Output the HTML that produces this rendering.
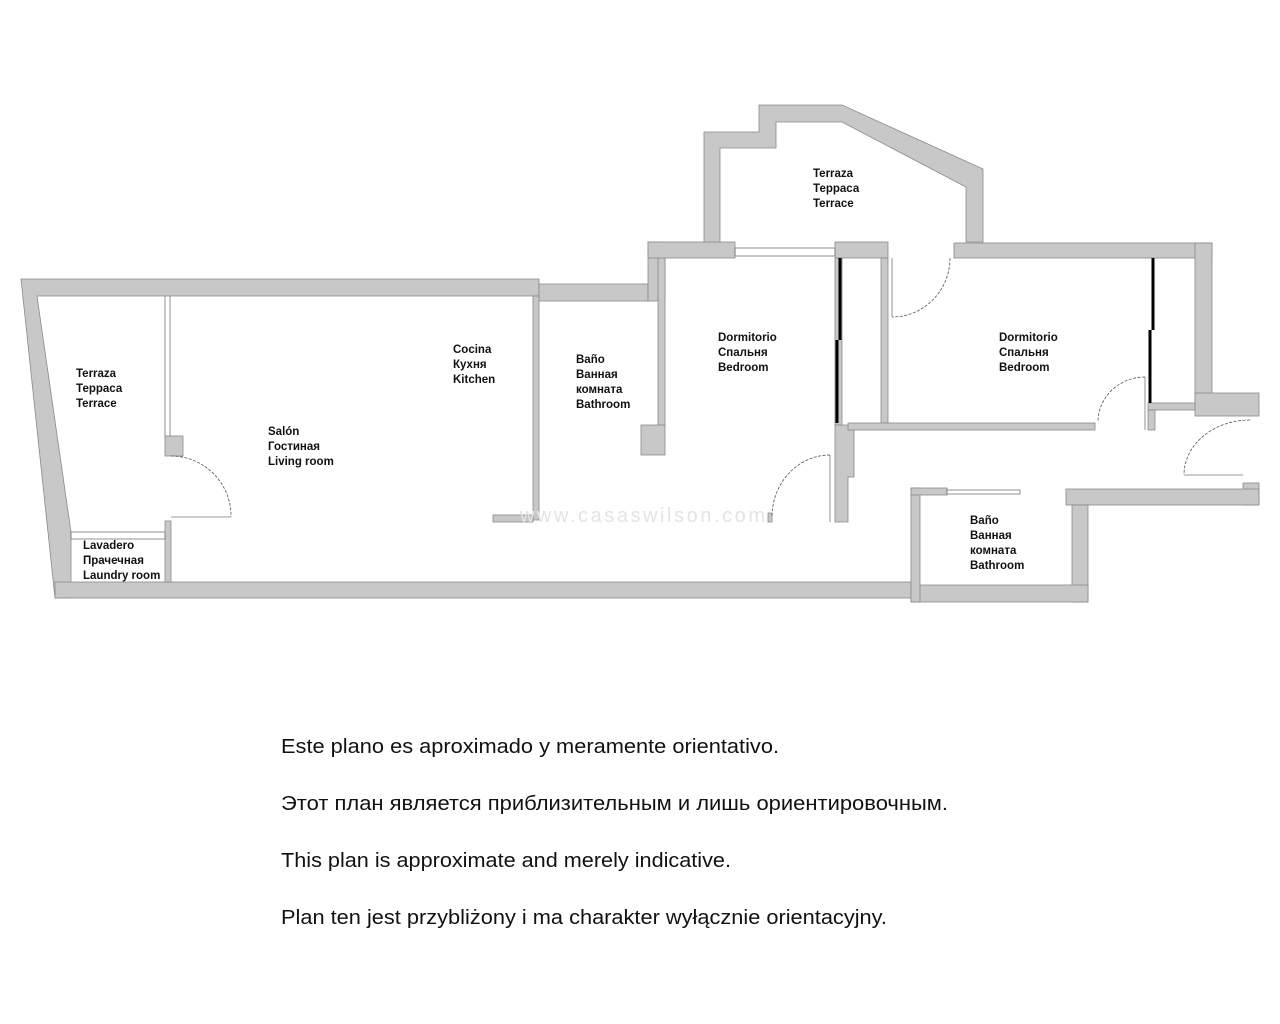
<!DOCTYPE html>
<html><head><meta charset="utf-8"><style>
html,body{margin:0;padding:0;background:#fff;}
svg{display:block;}
.l{font-family:"Liberation Sans","DejaVu Sans",sans-serif;font-weight:bold;font-size:11.5px;fill:#111;}
.n{font-family:"Liberation Sans","DejaVu Sans",sans-serif;font-size:20px;fill:#111;}
</style></head><body>
<svg width="1280" height="1024" viewBox="0 0 1280 1024" xmlns="http://www.w3.org/2000/svg">
<g fill="#c8c8c8" stroke="#8a8a8a" stroke-width="0.8">
<polygon points="21,279 539,279 539,296 37,296 71,532 71,598 55,598"/>
<rect x="55" y="582" width="856" height="16"/>
<rect x="539" y="284" width="109" height="17"/>
<rect x="533" y="296" width="6" height="224"/>
<rect x="648" y="242" width="17" height="59"/>
<rect x="658" y="258" width="7" height="167"/>
<rect x="641" y="425" width="24" height="30"/>
<rect x="648" y="242" width="87" height="16"/>
<polygon points="704,132 759,132 759,105 842,105 983,169 983,242 966,242 966,187 842,122 776,122 776,148 720,148 720,242 704,242"/>
<rect x="835" y="242" width="53" height="16"/>
<rect x="881" y="258" width="7" height="165"/>
<rect x="835" y="258" width="7" height="167"/>
<polygon points="835,425 854,425 854,477 848,477 848,522 835,522"/>
<rect x="848" y="423" width="247" height="7"/>
<rect x="954" y="243" width="258" height="15"/>
<rect x="1195" y="243" width="17" height="167"/>
<rect x="1195" y="393" width="64" height="23"/>
<rect x="1148" y="403" width="47" height="7"/>
<rect x="1148" y="410" width="7" height="20"/>
<rect x="1243" y="483" width="16" height="22"/>
<rect x="1066" y="489" width="193" height="16"/>
<rect x="1072" y="505" width="16" height="97"/>
<rect x="911" y="585" width="177" height="17"/>
<rect x="911" y="488" width="9" height="114"/>
<rect x="911" y="488" width="36" height="7"/>
<rect x="165" y="436" width="18" height="20"/>
<rect x="165" y="521" width="6" height="61"/>
<rect x="493" y="515" width="40" height="7"/>
<rect x="768" y="513" width="4" height="9"/>
</g>
<g fill="none" stroke="#777" stroke-width="0.8">
<line x1="165" y1="296" x2="165" y2="436"/><line x1="170" y1="296" x2="170" y2="436"/>
<rect x="71" y="532" width="94" height="7"/>
<rect x="735" y="248" width="100" height="8"/>
<rect x="947" y="490" width="73" height="4"/>
<line x1="171" y1="517" x2="231" y2="517"/>
<line x1="830" y1="455" x2="830" y2="522"/>
<line x1="892" y1="258" x2="892" y2="317"/>
<line x1="1145" y1="377" x2="1145" y2="430"/>
<line x1="1184" y1="475" x2="1243" y2="475"/>
</g>
<g fill="none" stroke="#555" stroke-width="0.8" stroke-dasharray="3,1.5">
<path d="M171,456 A60,60 0 0 1 231,517"/>
<path d="M830,455 A58,62 0 0 0 772,517"/>
<path d="M950,258 A58,59 0 0 1 892,317"/>
<path d="M1145,377 A47,45 0 0 0 1098,422"/>
<path d="M1250,420 A66,55 0 0 0 1184,475"/>
</g>
<g stroke="#000" stroke-width="3">
<line x1="840" y1="258" x2="840" y2="340"/><line x1="837" y1="340" x2="837" y2="423"/>
<line x1="1153" y1="258" x2="1153" y2="330"/><line x1="1150" y1="330" x2="1150" y2="403"/>
</g>
<text x="520" y="522" font-family="Liberation Sans,sans-serif" font-size="20" fill="#e4e4e4" textLength="245">www.casaswilson.com</text>
<g class="l">
<text x="76" y="377">Terraza</text><text x="76" y="392">Терраса</text><text x="76" y="407">Terrace</text>
<text x="268" y="435">Salón</text><text x="268" y="450">Гостиная</text><text x="268" y="465">Living room</text>
<text x="453" y="353">Cocina</text><text x="453" y="368">Кухня</text><text x="453" y="383">Kitchen</text>
<text x="576" y="363">Baño</text><text x="576" y="378">Ванная</text><text x="576" y="393">комната</text><text x="576" y="408">Bathroom</text>
<text x="718" y="341">Dormitorio</text><text x="718" y="356">Спальня</text><text x="718" y="371">Bedroom</text>
<text x="813" y="177">Terraza</text><text x="813" y="192">Терраса</text><text x="813" y="207">Terrace</text>
<text x="999" y="341">Dormitorio</text><text x="999" y="356">Спальня</text><text x="999" y="371">Bedroom</text>
<text x="970" y="524">Baño</text><text x="970" y="539">Ванная</text><text x="970" y="554">комната</text><text x="970" y="569">Bathroom</text>
<text x="83" y="549">Lavadero</text><text x="83" y="564">Прачечная</text><text x="83" y="579">Laundry room</text>
</g>
<g class="n">
<text x="281" y="753" textLength="498" lengthAdjust="spacingAndGlyphs">Este plano es aproximado y meramente orientativo.</text>
<text x="281" y="810" textLength="667" lengthAdjust="spacingAndGlyphs">Этот план является приблизительным и лишь ориентировочным.</text>
<text x="281" y="867" textLength="450" lengthAdjust="spacingAndGlyphs">This plan is approximate and merely indicative.</text>
<text x="281" y="924" textLength="606" lengthAdjust="spacingAndGlyphs">Plan ten jest przybliżony i ma charakter wyłącznie orientacyjny.</text>
</g>
</svg>
</body></html>
